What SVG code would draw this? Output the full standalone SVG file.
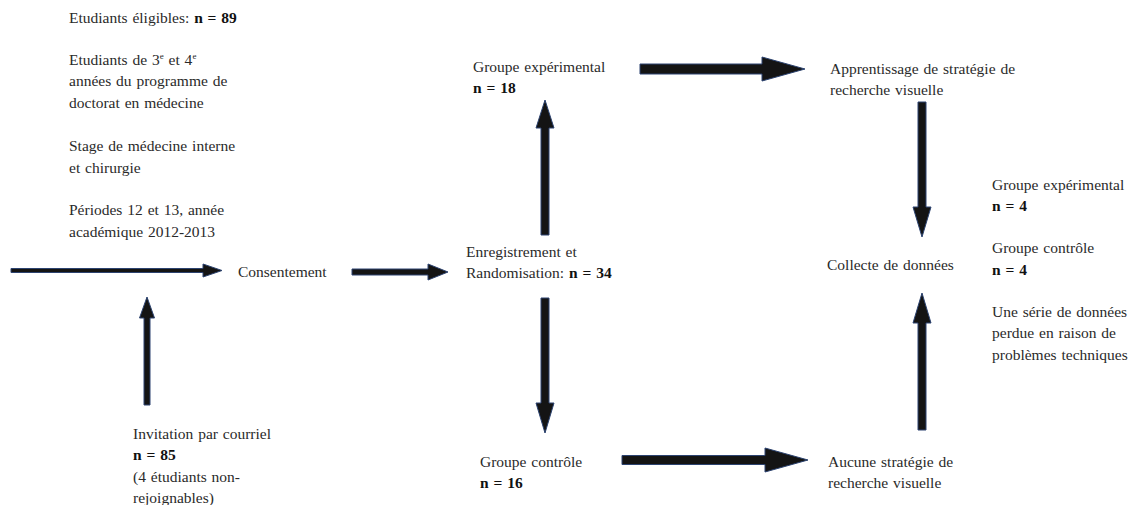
<svg xmlns="http://www.w3.org/2000/svg" width="1147" height="505" viewBox="0 0 1147 505">
<style>
text{font-family:'Liberation Serif','Noto Serif','FreeSerif','Times New Roman',Times,serif;font-size:15.5px;word-spacing:1px;fill:#2a2a2a}
.b{font-weight:bold;fill:#111}
.sup{font-size:9px}
.arr{fill:#141414;stroke:#2c4370;stroke-width:1}
</style>
<rect width="1147" height="505" fill="#fff"/>
<g id="connectors">
<polygon class="arr" points="11,268.5 203,268.5 203,264 222,270.5 203,277 203,272.5 11,272.5"/>
<polygon class="arr" points="144,405 144,318 139.5,318 147,297 154.5,318 150,318 150,405"/>
<polygon class="arr" points="352,269 428,269 428,264 448,272 428,280 428,275 352,275"/>
<polygon class="arr" points="541,235 541,128 536,128 545,100 554,128 549,128 549,235"/>
<polygon class="arr" points="640,64 762,64 762,57 805,69 762,81 762,74 640,74"/>
<polygon class="arr" points="918,102 918,207 913,207 922,237 931,207 926,207 926,102"/>
<polygon class="arr" points="918,430 918,323 913,323 922,293 931,323 926,323 926,430"/>
<polygon class="arr" points="541,298 541,403 536,403 545,433 554,403 549,403 549,298"/>
<polygon class="arr" points="622,455.5 765,455.5 765,448 808,460 765,472 765,464.5 622,464.5"/>
</g>
<g id="eligibles">
<text x="69" y="23">Etudiants éligibles:  <tspan class="b">n = 89</tspan></text>
<text x="69" y="65">Etudiants de 3<tspan class="sup" dy="-6">e</tspan><tspan dy="6"> et 4</tspan><tspan class="sup" dy="-6">e</tspan></text>
<text x="69" y="86">années du programme de</text>
<text x="69" y="108">doctorat en médecine</text>
<text x="69" y="151">Stage de médecine interne</text>
<text x="69" y="173">et chirurgie</text>
<text x="69" y="215">Périodes 12 et 13, année</text>
<text x="69" y="237">académique 2012-2013</text>
</g>
<g id="consentement">
<text x="238" y="277">Consentement</text>
</g>
<g id="invitation">
<text x="133" y="439">Invitation par courriel</text>
<text x="133" y="460" class="b">n = 85</text>
<text x="133" y="482">(4 étudiants non-</text>
<text x="133" y="503">rejoignables)</text>
</g>
<g id="enregistrement">
<text x="466" y="257">Enregistrement  et</text>
<text x="466" y="278">Randomisation:  <tspan class="b">n = 34</tspan></text>
</g>
<g id="groupe-experimental">
<text x="473" y="72">Groupe expérimental</text>
<text x="473" y="93" class="b">n = 18</text>
</g>
<g id="apprentissage">
<text x="830" y="74">Apprentissage  de stratégie de</text>
<text x="830" y="95">recherche visuelle</text>
</g>
<g id="collecte">
<text x="827" y="270">Collecte  de données</text>
</g>
<g id="resultats">
<text x="992" y="190">Groupe expérimental</text>
<text x="992" y="211" class="b">n = 4</text>
<text x="992" y="253">Groupe contrôle</text>
<text x="992" y="275" class="b">n = 4</text>
<text x="992" y="317">Une série de données</text>
<text x="992" y="338">perdue en raison de</text>
<text x="992" y="360">problèmes techniques</text>
</g>
<g id="groupe-controle">
<text x="480" y="467">Groupe contrôle</text>
<text x="480" y="488" class="b">n = 16</text>
</g>
<g id="aucune">
<text x="828" y="467">Aucune stratégie de</text>
<text x="828" y="488">recherche visuelle</text>
</g>
</svg>
